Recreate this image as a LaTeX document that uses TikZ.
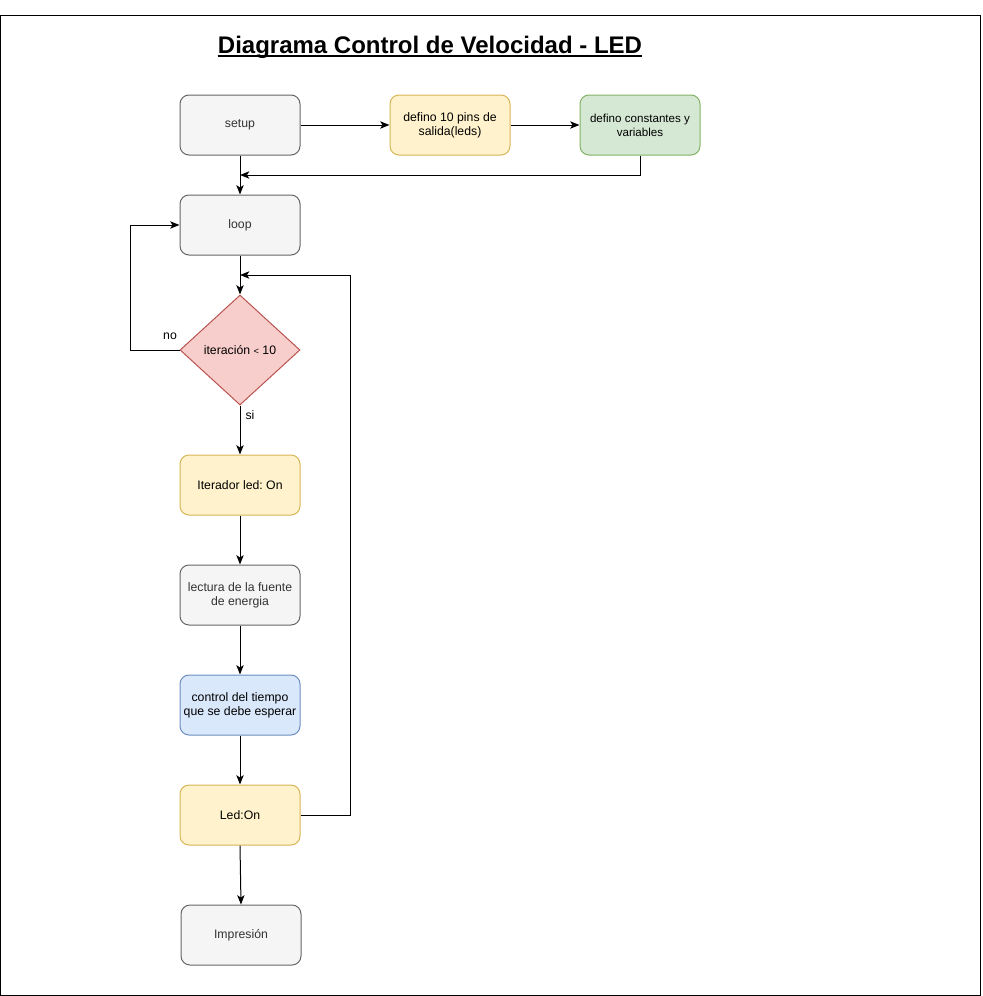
\documentclass[tikz,border=0pt]{standalone}
\usepackage{fontspec}
\setmainfont{Liberation Sans}
\usetikzlibrary{shapes.geometric,arrows.meta}
\definecolor{grayfill}{HTML}{F5F5F5}
\definecolor{graydraw}{HTML}{666666}
\definecolor{graytext}{HTML}{333333}
\definecolor{yelfill}{HTML}{FFF2CC}
\definecolor{yeldraw}{HTML}{D6B656}
\definecolor{grnfill}{HTML}{D5E8D4}
\definecolor{grndraw}{HTML}{82B366}
\definecolor{redfill}{HTML}{F8CECC}
\definecolor{reddraw}{HTML}{B85450}
\definecolor{blufill}{HTML}{DAE8FC}
\definecolor{bludraw}{HTML}{6C8EBF}
\frenchspacing
\tikzset{
  box/.style={rectangle, rounded corners=6.75pt, minimum width=90pt, minimum height=45pt, inner sep=1pt, align=center, font=\fontsize{9.2}{10.5}\selectfont\frenchspacing, line width=0.75pt},
  graybox/.style={box, fill=grayfill, draw=graydraw, text=graytext},
  yelbox/.style={box, fill=yelfill, draw=yeldraw},
  grnbox/.style={box, fill=grnfill, draw=grndraw},
  blubox/.style={box, fill=blufill, draw=bludraw},
  decision/.style={diamond, aspect=1.09, minimum width=90pt, minimum height=82.5pt, inner sep=0pt, fill=redfill, draw=reddraw, line width=0.75pt, font=\fontsize{9.2}{10.5}\selectfont},
  conn/.style={draw=black, line width=0.75pt, -{Stealth[length=7pt,width=5.5pt,inset=1.8pt]}},
  lbl/.style={font=\fontsize{9.2}{10.5}\selectfont, inner sep=0pt}
}
\begin{document}
\begin{tikzpicture}[x=0.75pt,y=-0.75pt]
\useasboundingbox (0,0) rectangle (982,996);
\draw[line width=0.75pt] (0.5,15.5) rectangle (980.5,995.5);
\node[font=\bfseries\fontsize{18}{21}\selectfont, inner sep=0pt, anchor=base] (title) at (430,53) {Diagrama Control de Velocidad - LED};
\draw[line width=1.3pt] ([yshift=-2pt]title.base west) -- ([yshift=-2pt]title.base east);
\node[graybox] (setup) at (240,125) {setup};
\node[yelbox] (pins) at (450,125) {defino 10 pins de\\salida(leds)};
\node[grnbox, font=\fontsize{8.7}{10.5}\selectfont] (const) at (640,125) {defino constantes y\\variables};
\node[graybox] (loop) at (240,225) {loop};
\node[decision] (cond) at (240,350) {iteración {\fontsize{7}{8}\selectfont <} 10};
\node[yelbox] (iter) at (240,485) {Iterador led: On};
\node[graybox] (lect) at (240,595) {lectura de la fuente\\de energia};
\node[blubox] (ctrl) at (240,705) {control del tiempo\\que se debe esperar};
\node[yelbox] (led) at (240,815) {Led:On};
\node[graybox] (imp) at (241,935) {Impresión};
\coordinate (j1) at (240,175);
\coordinate (j2) at (240,275);
\draw[conn] (setup) -- (pins);
\draw[conn] (pins) -- (const);
\draw[conn] (const.south) |- (j1);
\draw[conn] (setup) -- (loop);
\draw[conn] (loop) -- (cond);
\draw[conn] (cond.west) -- (130,350) |- (loop.west);
\node[lbl] (no) at (170,336) {no};
\draw[conn] (cond) -- (iter);
\node[lbl] (si) at (250,415) {si};
\draw[conn] (iter) -- (lect);
\draw[conn] (lect) -- (ctrl);
\draw[conn] (ctrl) -- (led);
\draw[conn] (led.east) -- (350,815) |- (j2);
\draw[conn] (led.south) -- (imp.north);
\end{tikzpicture}
\end{document}
